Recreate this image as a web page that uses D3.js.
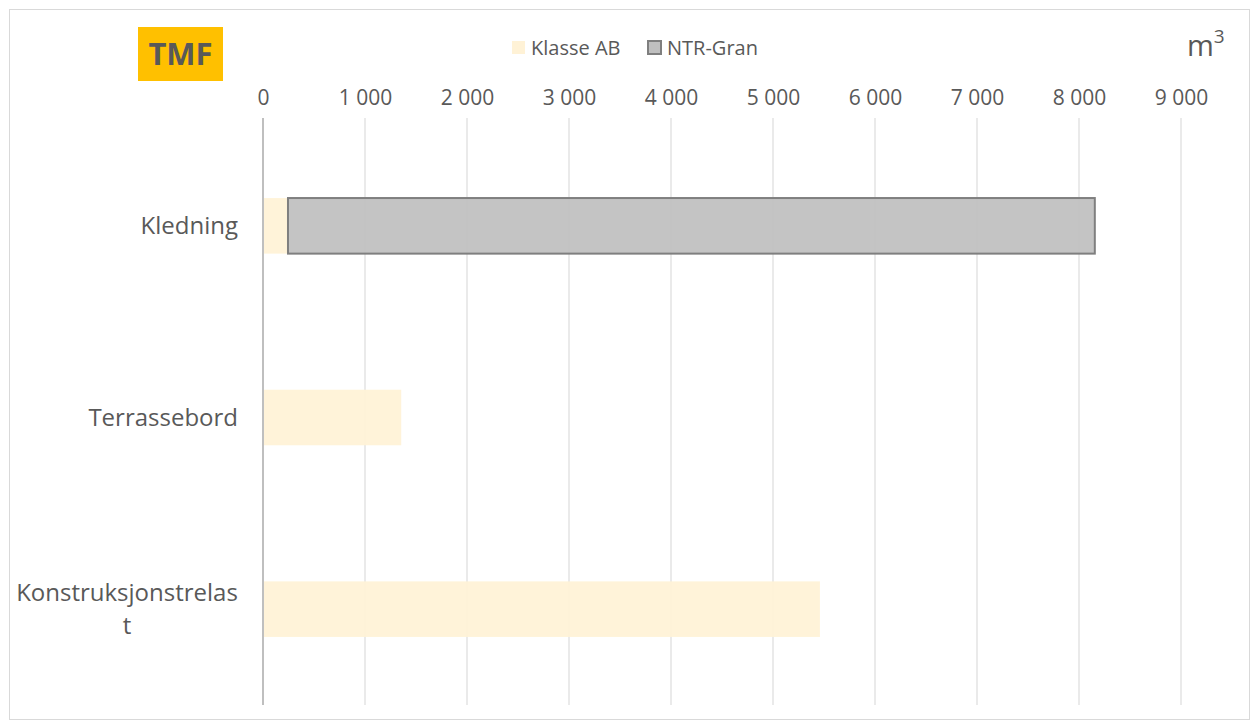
<!DOCTYPE html>
<html>
<head>
  <meta charset="utf-8">
  <title>TMF</title>
  <script src="https://cdn.jsdelivr.net/npm/d3@7"></script>
  <style>
    body { margin: 0; background: #fff; }
    text { font-family: "Open Sans", sans-serif; fill: #595959; }
  </style>
</head>
<body>
<svg width="1252" height="722"></svg>
<script>
  var categories = ["Kledning", "Terrassebord", "Konstruksjonstrelast"];
  var series = ["Klasse AB", "NTR-Gran"];
  var klasseAB = [245, 1355, 5460];
  var ntrGran = [7910, 0, 0];
  var ticks = [0, 1000, 2000, 3000, 4000, 5000, 6000, 7000, 8000, 9000];

  var svg = d3.select("svg");
  var fills = { "Klasse AB": "#fff2d6", "NTR-Gran": "#bfbfbf" };
  var strokes = { "Klasse AB": "none", "NTR-Gran": "#7f7f7f" };

  // chart frame
  svg.append("rect")
      .attr("x", 9.5).attr("y", 9.5)
      .attr("width", 1240).attr("height", 710)
      .attr("fill", "none").attr("stroke", "#d9d9d9");

  var x = d3.scaleLinear().domain([0, 9000]).range([263, 1181]);
  var y = d3.scaleBand().domain(categories).range([130, 705]).paddingInner(0.71).paddingOuter(0.355);

  // gridlines
  svg.append("g").selectAll("line")
      .data(ticks.slice(1))
      .enter().append("line")
      .attr("x1", function(d) { return x(d); })
      .attr("x2", function(d) { return x(d); })
      .attr("y1", 118).attr("y2", 705)
      .attr("stroke", "#e3e3e3").attr("stroke-width", 1.5);

  // stacked bars
  var rows = categories.map(function(c, i) {
    return { cat: c, "Klasse AB": klasseAB[i], "NTR-Gran": ntrGran[i] };
  });
  var stacked = d3.stack().keys(series)(rows);

  svg.append("g").selectAll("g")
      .data(stacked)
      .enter().append("g")
      .selectAll("rect")
      .data(function(s) { return s.map(function(d) { d.key = s.key; return d; }); })
      .enter().append("rect")
      .filter(function(d) { return d[1] - d[0] > 0; })
      .attr("x", function(d) { return x(d[0]); })
      .attr("width", function(d) { return x(d[1]) - x(d[0]); })
      .attr("y", function(d) { return y(d.data.cat); })
      .attr("height", y.bandwidth())
      .attr("fill", function(d) { return fills[d.key]; })
      .attr("fill-opacity", 0.92)
      .attr("stroke", function(d) { return strokes[d.key]; })
      .attr("stroke-width", 2);

  // zero axis line
  svg.append("line")
      .attr("x1", x(0)).attr("x2", x(0))
      .attr("y1", 118).attr("y2", 705)
      .attr("stroke", "#bfbfbf").attr("stroke-width", 2);

  // top axis labels
  var axis = d3.axisTop(x).tickValues(ticks).tickSize(0)
      .tickFormat(function(d) { return d3.format(",")(d).replace(",", " "); });
  var ax = svg.append("g").attr("transform", "translate(0,108)").call(axis);
  ax.select(".domain").remove();
  ax.selectAll("text").style("font-size", "21px").attr("fill", "#595959")
      .style("font-family", "'Open Sans', sans-serif");

  // category labels
  var labelX = 238;
  svg.append("g").selectAll("text")
      .data(categories)
      .enter().append("text")
      .attr("x", labelX)
      .attr("y", function(d) { return y(d) + y.bandwidth() / 2 + 8; })
      .attr("text-anchor", "end")
      .style("font-size", "24px")
      .each(function(d) {
        if (d.length > 16) {
          var t = d3.select(this);
          var w = 222;
          t.attr("text-anchor", "middle").attr("y", y(d) + y.bandwidth() / 2 - 8);
          t.append("tspan").attr("x", labelX - w / 2).attr("dy", 0).text(d.slice(0, 19));
          t.append("tspan").attr("x", labelX - w / 2).attr("dy", 33).text(d.slice(19));
        } else {
          d3.select(this).text(d);
        }
      });

  // title box
  svg.append("rect")
      .attr("x", 138).attr("y", 27).attr("width", 85).attr("height", 54)
      .attr("fill", "#ffc000");
  svg.append("text")
      .attr("x", 180.5).attr("y", 65)
      .attr("text-anchor", "middle")
      .style("font-size", "31px").style("font-weight", "bold")
      .text("TMF");

  // legend
  var legendX = [511, 647];
  var lg = svg.append("g").selectAll("g")
      .data(series)
      .enter().append("g")
      .attr("transform", function(d, i) { return "translate(" + legendX[i] + ",40)"; });
  lg.append("rect")
      .attr("x", 1).attr("y", 1).attr("width", 13).attr("height", 13)
      .attr("fill", function(d) { return fills[d]; })
      .attr("stroke", function(d) { return strokes[d]; })
      .attr("stroke-width", 2);
  lg.append("text")
      .attr("x", 20).attr("y", 15)
      .style("font-size", "20px")
      .text(function(d) { return d; });

  // unit
  var unit = svg.append("text")
      .attr("x", 1187).attr("y", 56)
      .style("font-size", "29px").attr("fill", "#7f7f7f");
  unit.append("tspan").text("m");
  unit.append("tspan").attr("dy", -13).style("font-size", "19px").text("3");
</script>
</body>
</html>
